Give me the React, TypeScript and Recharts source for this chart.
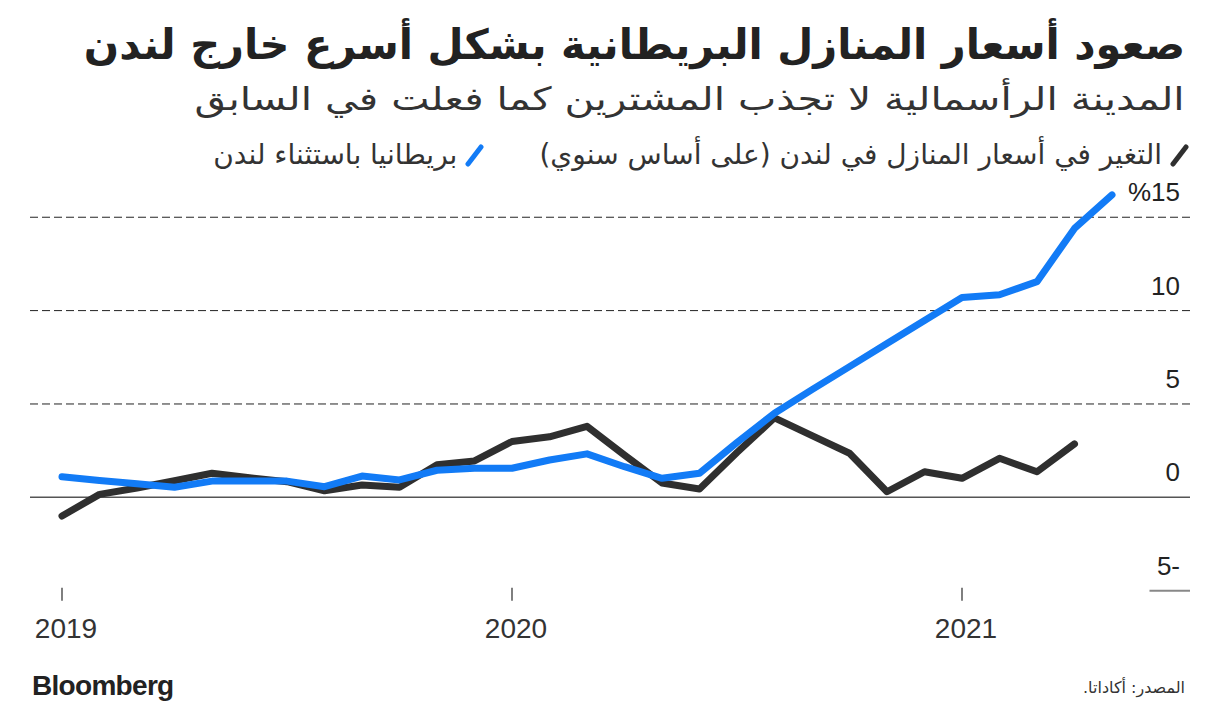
import { LineChart, Line, XAxis, YAxis, ReferenceLine } from "recharts"

// Jan 2019 .. May 2021, one point per month
const months = [
    "2019-01", "2019-02", "2019-03", "2019-04", "2019-05", "2019-06", "2019-07", "2019-08", "2019-09", "2019-10", "2019-11", "2019-12",
    "2020-01", "2020-02", "2020-03", "2020-04", "2020-05", "2020-06", "2020-07", "2020-08", "2020-09", "2020-10", "2020-11", "2020-12",
    "2021-01", "2021-02", "2021-03", "2021-04", "2021-05",
]
const london = [
    -1.0, 0.16, 0.5, 0.89, 1.29, 1.05, 0.84, 0.35, 0.66, 0.54, 1.74, 1.95,
    2.99, 3.24, 3.8, 2.26, 0.77, 0.45, 2.4, 4.26, 3.3, 2.36, 0.3, 1.37,
    1.02, 2.09, 1.37, 2.86, null,
]
const ukExLondon = [
    1.1, 0.9, 0.73, 0.54, 0.87, 0.87, 0.87, 0.57, 1.14, 0.93, 1.45, 1.56,
    1.56, 2.0, 2.33, 1.64, 1.02, 1.29, 2.94, 4.5, 5.77, 7.0, 8.24, 9.47,
    10.7, 10.85, 11.55, 14.4, 16.2,
]
const yearTicks = [0, 12, 24]
const yearLabels = ["2019", "2020", "2021"]
const yTicks = [-5, 0, 5, 10, 15]

const title = "صعود أسعار المنازل البريطانية بشكل أسرع خارج لندن"
const subtitle = "المدينة الرأسمالية لا تجذب المشترين كما فعلت في السابق"
const legendLondon = "التغير في أسعار المنازل في لندن (على أساس سنوي)"
const legendUk = "بريطانيا باستثناء لندن"
const source = "المصدر: أكاداتا."

const BLUE = "#127bf6"
const DARK = "#2f2f2f"
const arabicFont = '"DejaVu Sans", "Noto Sans", sans-serif'
const latinFont = '"Liberation Sans", Arial, sans-serif'

const data = months.map((m, i) => ({ i, month: m, london: london[i], uk: ukExLondon[i] }))

function yLabel(v: number) {
    if (v < 0) return `${-v}-`
    if (v === 15) return `%${v}`
    return `${v}`
}

function YTick(props: any) {
    const { y, payload } = props
    return (
        <text x={1180} y={y - 16} textAnchor="end" fontSize={26} fill="#222" fontFamily={latinFont}>
            {yLabel(payload.value)}
        </text>
    )
}

function XTick(props: any) {
    const { x, y, payload } = props
    const idx = yearTicks.indexOf(payload.value)
    return (
        <g>
            <line x1={x} x2={x} y1={y - 3} y2={y + 10} stroke="#555" strokeWidth={1.5} />
            <text x={x + 4} y={y + 47} textAnchor="middle" fontSize={28} fill="#333" fontFamily={latinFont}>
                {yearLabels[idx]}
            </text>
        </g>
    )
}

function Slash({ color }: { color: string }) {
    return (
        <svg width={20} height={28} style={{ display: "block" }}>
            <line x1={3} y1={23} x2={16} y2={6} stroke={color} strokeWidth={5} strokeLinecap="round" />
        </svg>
    )
}

export default function App() {
    return (
        <div style={{ position: "absolute", left: 0, top: 0, width: 1220, height: 713, background: "#fff" }}>
            <div
                style={{
                    position: "absolute", right: 35, top: 20, direction: "rtl", whiteSpace: "nowrap",
                    fontFamily: arabicFont, fontWeight: 700, fontSize: 41.5, color: "#222",
                }}
            >
                {title}
            </div>
            <div
                style={{
                    position: "absolute", right: 35, top: 80, direction: "rtl", whiteSpace: "nowrap",
                    fontFamily: arabicFont, fontSize: 32, color: "#333",
                    transform: "scaleX(1.27)", transformOrigin: "right center",
                }}
            >
                {subtitle}
            </div>
            <div
                style={{
                    position: "absolute", right: 30, top: 138, direction: "rtl", display: "flex",
                    alignItems: "center", gap: 8, whiteSpace: "nowrap",
                    fontFamily: arabicFont, fontSize: 28, color: "#333",
                }}
            >
                <Slash color={DARK} />
                <span>{legendLondon}</span>
                <span style={{ width: 38 }} />
                <Slash color={BLUE} />
                <span>{legendUk}</span>
            </div>

            <LineChart
                width={1220}
                height={713}
                data={data}
                margin={{ top: 179.9, right: 29, bottom: 62.3, left: 30 }}
            >
                <XAxis
                    dataKey="i"
                    type="number"
                    domain={[-0.8533, 30.08]}
                    allowDataOverflow
                    ticks={yearTicks}
                    interval={0}
                    axisLine={false}
                    tickLine={false}
                    tickSize={0}
                    tickMargin={0}
                    height={60}
                    tick={<XTick />}
                />
                <YAxis
                    orientation="right"
                    type="number"
                    domain={[-5, 17]}
                    ticks={yTicks}
                    interval={0}
                    width={1}
                    axisLine={false}
                    tickLine={false}
                    tickSize={0}
                    tickMargin={0}
                    tick={<YTick />}
                />
                <ReferenceLine y={15} stroke="#222" strokeDasharray="8 4" strokeWidth={1} />
                <ReferenceLine y={10} stroke="#222" strokeDasharray="8 4" strokeWidth={1} />
                <ReferenceLine y={5} stroke="#222" strokeDasharray="8 4" strokeWidth={1} />
                <ReferenceLine y={0} stroke="#555" strokeWidth={1.5} />
                <ReferenceLine
                    segment={[{ x: 29.0, y: -5 }, { x: 30.08, y: -5 }]}
                    stroke="#888"
                    strokeWidth={2}
                />
                <Line
                    dataKey="london"
                    stroke={DARK}
                    strokeWidth={7}
                    strokeLinecap="round"
                    strokeLinejoin="round"
                    dot={false}
                    activeDot={false}
                    isAnimationActive={false}
                />
                <Line
                    dataKey="uk"
                    stroke={BLUE}
                    strokeWidth={7}
                    strokeLinecap="round"
                    strokeLinejoin="round"
                    dot={false}
                    activeDot={false}
                    isAnimationActive={false}
                />
            </LineChart>

            <div
                style={{
                    position: "absolute", left: 32, top: 670, fontFamily: latinFont, fontWeight: 700,
                    fontSize: 28, letterSpacing: -0.7, color: "#222",
                }}
            >
                Bloomberg
            </div>
            <div
                style={{
                    position: "absolute", right: 35, top: 678, direction: "rtl", whiteSpace: "nowrap",
                    fontFamily: arabicFont, fontSize: 16, color: "#333",
                }}
            >
                {source}
            </div>
        </div>
    )
}
